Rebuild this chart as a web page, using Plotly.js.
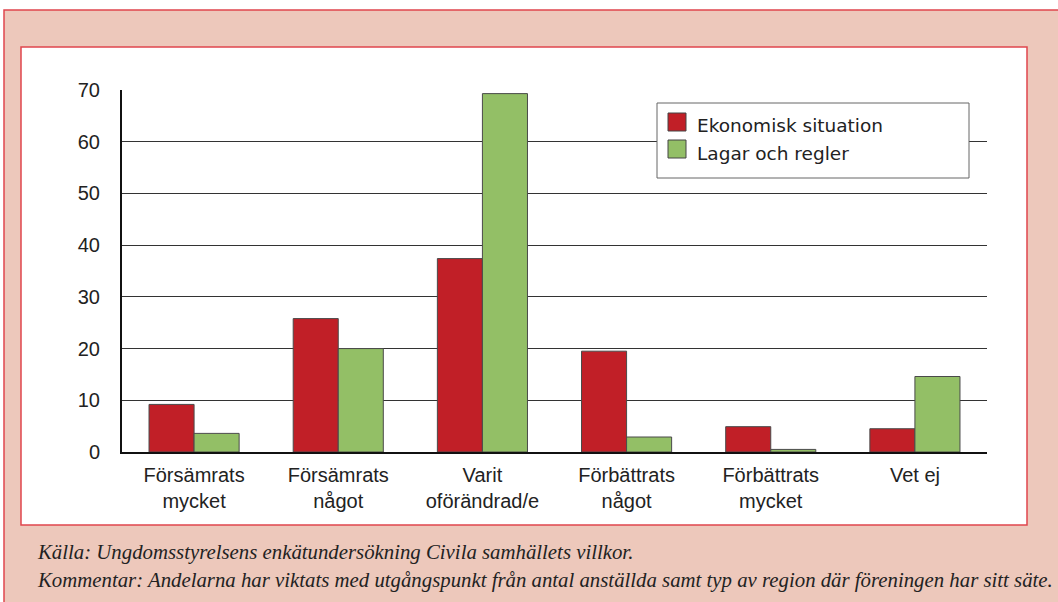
<!DOCTYPE html>
<html><head><meta charset="utf-8">
<script src="https://cdn.plot.ly/plotly-3.0.1.min.js"></script>
<style>html,body{margin:0;padding:0;background:#fff}#chart{width:1058px;height:602px}</style>
</head><body><div id="chart"></div>
<script>
const categories = ["Försämrats<br>mycket","Försämrats<br>något","Varit<br>oförändrad/e","Förbättrats<br>något","Förbättrats<br>mycket","Vet ej"];
const seriesNames = ["Ekonomisk situation","Lagar och regler"];
const ekonomisk = [9.2, 25.8, 37.4, 19.5, 4.9, 4.5];
const lagar = [3.6, 20.0, 69.3, 2.9, 0.5, 14.6];
const yTicks = [0,10,20,30,40,50,60,70];
const footerLines = ["Källa: Ungdomsstyrelsens enkätundersökning Civila samhällets villkor.",
  "Kommentar: Andelarna har viktats med utgångspunkt från antal anställda samt typ av region där föreningen har sitt säte."];

const RED = '#C11F27', GREEN = '#93BF66', PINK = '#EDC8BB', BORDER = '#E0464E';
const L = 122, R = 987, T = 90, B = 452;
const px = x => (x - L) / (R - L);
const py = y => (B - y) / (B - T);

const traces = [
  {type:'bar', name:seriesNames[0], x:categories, y:ekonomisk, marker:{color:RED, line:{color:'#4a4a4a', width:1}}, showlegend:false, hoverinfo:'y'},
  {type:'bar', name:seriesNames[1], x:categories, y:lagar, marker:{color:GREEN, line:{color:'#4a4a4a', width:1}}, showlegend:false, hoverinfo:'y'}
];

const shapes = [
  {type:'rect', xref:'paper', yref:'paper', x0:px(4), x1:px(1070), y0:py(10), y1:py(620), fillcolor:PINK, line:{color:BORDER, width:1.5}, layer:'below'},
  {type:'rect', xref:'paper', yref:'paper', x0:px(21), x1:px(1027), y0:py(47), y1:py(525), fillcolor:'#ffffff', line:{color:BORDER, width:1.5}, layer:'below'},
  // legend box
  {type:'rect', xref:'paper', yref:'paper', x0:px(657), x1:px(969), y0:py(103), y1:py(178), fillcolor:'#ffffff', line:{color:'#666', width:1}},
  {type:'rect', xref:'paper', yref:'paper', x0:px(668), x1:px(686), y0:py(113), y1:py(131), fillcolor:RED, line:{color:'#444', width:1}},
  {type:'rect', xref:'paper', yref:'paper', x0:px(668), x1:px(686), y0:py(140), y1:py(158), fillcolor:GREEN, line:{color:'#444', width:1}}
];

const legendFont = {family:'DejaVu Sans, Verdana, sans-serif', size:18.5, color:'#222'};
const footFont = {family:'Liberation Serif, Times New Roman, serif', size:20.8, color:'#222'};
const annotations = [
  {xref:'paper', yref:'paper', x:px(695), y:py(126), xanchor:'left', yanchor:'middle', text:seriesNames[0], showarrow:false, font:legendFont},
  {xref:'paper', yref:'paper', x:px(695), y:py(153), xanchor:'left', yanchor:'middle', text:seriesNames[1], showarrow:false, font:legendFont},
  {xref:'paper', yref:'paper', x:px(35), y:py(552), xanchor:'left', yanchor:'middle', text:'<i>'+footerLines[0]+'</i>', showarrow:false, font:footFont},
  {xref:'paper', yref:'paper', x:px(35), y:py(580), xanchor:'left', yanchor:'middle', text:'<i>'+footerLines[1]+'</i>', showarrow:false, font:footFont}
];

const tickFont = {family:'Liberation Sans, Arial, sans-serif', size:20, color:'#222'};
const layout = {
  width:1058, height:602,
  margin:{l:L, r:1058-R, t:T, b:602-B, pad:0},
  paper_bgcolor:'#ffffff', plot_bgcolor:'rgba(0,0,0,0)',
  barmode:'group', bargap:0.375, bargroupgap:0,
  font:tickFont,
  xaxis:{type:'category', showline:true, linecolor:'#111', linewidth:2, ticks:'', showgrid:false, zeroline:false,
    tickfont:tickFont, ticklabelstandoff:4, fixedrange:true},
  yaxis:{range:[0,70], tickvals:yTicks, showline:true, linecolor:'#111', linewidth:2, showgrid:true, gridcolor:'#333', gridwidth:1,
    zeroline:false, ticks:'', tickfont:tickFont, ticklabelstandoff:16, fixedrange:true},
  shapes:shapes, annotations:annotations, showlegend:false
};

Plotly.newPlot('chart', traces, layout, {displayModeBar:false, staticPlot:true});
</script></body></html>
